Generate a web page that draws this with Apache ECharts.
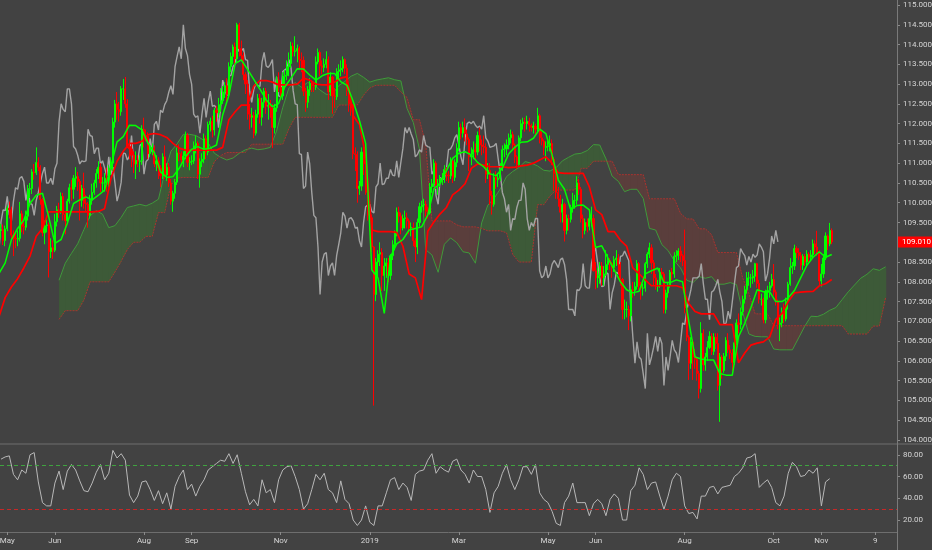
<!DOCTYPE html>
<html><head><meta charset="utf-8">
<script src="https://cdn.jsdelivr.net/npm/echarts@6/dist/echarts.min.js"></script>
<style>html,body{margin:0;padding:0;background:#424242;}#c{width:932px;height:550px;}</style>
</head><body><div id="c"></div>
<script>
// Daily candles [open, close, low, high], bar index j = 0..401 (late Apr 2018 .. 8 Nov 2019)
const candles = [
[109.30,109.32,109.10,109.47],[109.32,109.04,108.93,109.45],[109.04,109.34,108.90,109.42],[109.34,109.86,109.28,109.93],[109.86,109.82,109.62,110.03],
[109.82,109.18,109.05,109.90],[109.18,109.10,108.65,109.30],[109.10,109.08,108.85,109.24],[109.08,109.10,108.90,109.30],[109.10,109.72,109.02,110.02],
[109.72,109.40,109.25,109.80],[109.40,109.38,109.20,109.52],[109.38,109.66,109.30,109.80],[109.66,110.34,109.55,110.45],[110.34,110.36,110.12,110.50],
[110.36,110.78,110.22,110.85],[110.78,110.76,110.58,110.98],[110.76,111.02,110.70,111.40],[111.02,110.90,110.80,111.15],[110.90,110.08,109.95,110.95],
[110.08,109.24,109.15,110.12],[109.24,109.42,108.95,109.55],[109.42,109.44,109.25,109.58],[109.44,108.76,108.11,109.50],[108.76,108.86,108.60,109.10],
[108.86,108.80,108.58,109.05],[108.80,109.52,108.75,109.72],[109.52,109.82,109.40,109.92],[109.82,109.80,109.62,110.00],[109.80,110.16,109.72,110.26],
[110.16,109.70,109.55,110.25],[109.70,109.54,109.20,109.78],[109.54,110.04,109.48,110.10],[110.04,110.38,109.98,110.48],[110.38,110.34,110.05,110.58],
[110.34,110.62,110.10,110.70],[110.62,110.66,110.40,110.90],[110.66,110.54,110.30,110.78],[110.54,110.06,109.55,110.60],[110.06,110.36,109.90,110.45],
[110.36,109.98,109.85,110.76],[109.98,109.96,109.78,110.20],[109.96,109.68,109.37,110.02],[109.68,110.06,109.60,110.20],[110.06,110.26,109.95,110.48],
[110.26,110.50,110.20,110.58],[110.50,110.74,110.38,110.85],[110.74,110.90,110.60,111.05],[110.90,110.50,110.27,111.00],[110.50,110.50,110.30,110.65],
[110.50,110.62,110.28,110.75],[110.62,110.46,110.28,110.88],[110.46,110.86,110.40,110.95],[110.86,111.00,110.70,111.15],[111.00,112.04,110.80,112.15],
[112.04,112.50,111.90,112.60],[112.50,112.36,112.10,112.80],[112.36,112.30,112.05,112.55],[112.30,112.88,112.20,112.95],[112.88,112.88,112.60,113.13],
[112.88,112.50,112.40,113.18],[112.50,111.42,111.38,112.62],[111.42,111.36,111.10,111.60],[111.36,111.20,110.90,111.48],[111.20,110.98,110.75,111.30],
[110.98,111.06,110.60,111.30],[111.06,111.04,110.90,111.20],[111.04,111.06,110.78,111.20],[111.06,111.86,110.96,111.96],[111.86,111.70,111.40,112.15],
[111.70,111.68,111.55,111.85],[111.68,111.24,111.10,111.78],[111.24,111.38,111.15,111.50],[111.38,111.38,111.20,111.50],[111.38,110.98,110.90,111.45],
[110.98,111.06,110.80,111.20],[111.06,110.88,110.60,111.15],[110.88,110.68,110.40,110.95],[110.68,111.16,110.60,111.25],[111.16,110.70,110.60,111.45],
[110.70,110.90,110.55,111.00],[110.90,110.50,110.40,111.00],[110.50,110.04,109.95,110.60],[110.04,110.24,109.77,110.30],[110.24,110.52,110.10,110.60],
[110.52,111.26,110.45,111.40],[111.26,111.24,111.05,111.48],[111.24,111.08,110.95,111.30],[111.08,111.18,110.90,111.30],[111.18,111.70,111.10,111.80],
[111.70,111.02,110.90,111.76],[111.02,111.04,110.82,111.15],[111.04,111.06,110.95,111.20],[111.06,111.44,110.98,111.55],[111.44,111.50,111.25,111.70],
[111.50,110.72,110.60,111.55],[110.72,111.04,110.38,111.12],[111.04,111.10,110.90,111.25],[111.10,111.62,111.00,111.75],[111.62,111.28,111.10,111.70],
[111.28,111.98,111.20,112.05],[111.98,112.06,111.80,112.15],[112.06,111.84,111.65,112.20],[111.84,112.34,111.70,112.40],[112.34,112.28,112.05,112.45],
[112.28,112.48,112.15,112.65],[112.48,112.58,112.30,112.90],[112.58,112.80,112.50,112.95],[112.80,112.96,112.65,113.05],[112.96,112.74,112.50,113.15],
[112.74,113.44,112.65,113.55],[113.44,113.70,113.30,113.80],[113.70,113.94,113.50,114.00],[113.94,113.64,113.40,114.05],[113.64,114.50,113.55,114.55],
[114.50,113.90,113.70,114.55],[113.90,113.72,113.60,114.10],[113.72,113.24,113.10,113.80],[113.24,113.00,112.75,113.30],[113.00,112.24,112.10,113.10],
[112.24,112.16,111.85,112.50],[112.16,112.20,111.90,112.40],[112.20,111.76,111.63,112.30],[111.76,112.24,111.70,112.35],[112.24,112.64,112.15,112.75],
[112.64,112.16,112.00,112.75],[112.16,112.54,111.95,112.65],[112.54,112.82,112.40,112.90],[112.82,112.44,112.25,112.90],[112.44,112.46,112.10,112.75],
[112.46,112.40,112.15,112.60],[112.40,111.90,111.38,112.50],[111.90,112.40,111.75,112.50],[112.40,113.10,112.30,113.20],[113.10,112.92,112.80,113.30],
[112.92,112.70,112.60,113.10],[112.70,113.20,112.60,113.30],[113.20,113.22,112.90,113.35],[113.22,113.44,113.10,113.60],[113.44,113.52,113.20,113.80],
[113.52,113.96,113.40,114.07],[113.96,113.82,113.70,114.05],[113.82,113.84,113.70,114.21],[113.84,113.90,113.55,114.00],[113.90,113.62,113.40,113.95],
[113.62,113.60,113.30,113.80],[113.60,112.82,112.70,113.70],[112.82,112.54,112.30,112.90],[112.54,112.86,112.40,112.95],[112.86,113.02,112.70,113.15],
[113.02,112.96,112.80,113.10],[112.96,112.94,112.80,113.05],[112.94,113.56,112.85,113.70],[113.56,113.80,113.50,113.90],[113.80,113.46,113.20,113.85],
[113.46,113.42,113.25,113.60],[113.42,113.50,113.30,113.65],[113.50,113.62,113.40,113.83],[113.62,112.80,112.60,113.70],[112.80,113.18,112.70,113.30],
[113.18,112.70,112.25,113.20],[112.70,112.68,112.40,112.90],[112.68,113.32,112.60,113.40],[113.32,113.36,113.10,113.50],[113.36,113.40,113.20,113.60],
[113.40,113.62,113.30,113.70],[113.62,113.40,113.25,113.65],[113.40,112.84,112.70,113.50],[112.84,112.50,112.30,112.90],[112.50,112.48,112.20,112.65],
[112.48,111.24,111.10,112.50],[111.24,111.22,110.80,111.40],[111.22,110.36,110.00,111.30],[110.36,110.42,110.20,110.55],[110.42,111.28,110.30,111.40],
[111.28,110.98,110.70,111.50],[110.98,110.26,110.20,111.05],[110.26,109.68,109.55,110.35],[109.68,109.62,109.30,109.80],[109.62,108.88,108.75,109.70],
[108.88,107.68,104.87,108.90],[107.68,108.50,107.51,108.60],[108.50,108.70,108.10,108.80],[108.70,108.74,108.40,109.00],[108.74,108.16,107.77,108.85],
[108.16,108.40,107.77,108.60],[108.40,108.48,108.10,108.60],[108.48,108.16,107.99,108.60],[108.16,108.66,108.05,108.70],[108.66,108.94,108.55,109.05],
[108.94,109.24,108.80,109.30],[109.24,109.76,109.15,109.88],[109.76,109.66,109.50,109.90],[109.66,109.36,109.20,109.75],[109.36,109.60,109.30,109.70],
[109.60,109.62,109.35,109.80],[109.62,109.54,109.35,109.75],[109.54,109.36,109.20,109.60],[109.36,109.38,109.15,109.50],[109.38,109.04,108.90,109.50],
[109.04,108.88,108.50,109.10],[108.88,109.50,108.70,109.60],[109.50,109.90,109.40,110.00],[109.90,109.94,109.75,110.05],[109.94,109.96,109.80,110.10],
[109.96,109.78,109.65,110.05],[109.78,109.74,109.60,109.90],[109.74,110.40,109.70,110.50],[110.40,110.48,110.25,110.60],[110.48,111.00,110.40,111.10],
[111.00,110.46,110.35,111.05],[110.46,110.48,110.20,110.60],[110.48,110.62,110.40,110.70],[110.62,110.62,110.45,110.75],[110.62,110.84,110.50,110.95],
[110.84,110.70,110.55,110.90],[110.70,110.68,110.50,110.80],[110.68,111.06,110.60,111.15],[111.06,110.64,110.50,111.10],[110.64,111.02,110.55,111.10],
[111.02,111.38,110.90,111.50],[111.38,111.90,111.30,112.05],[111.90,111.76,111.60,112.00],[111.76,111.90,111.65,112.05],[111.90,111.74,111.55,112.13],
[111.74,111.60,111.45,111.85],[111.60,111.16,110.80,111.65],[111.16,111.22,110.95,111.40],[111.22,111.34,111.10,111.55],[111.34,111.28,111.10,111.50],
[111.28,111.70,111.20,111.80],[111.70,111.46,111.30,111.90],[111.46,111.42,111.20,111.60],[111.42,111.40,111.25,111.70],[111.40,110.72,110.50,111.50],
[110.72,110.82,110.60,111.00],[110.82,110.18,109.95,111.00],[110.18,109.96,109.70,110.30],[109.96,110.64,109.90,110.75],[110.64,110.58,110.35,110.80],
[110.58,110.62,110.40,110.75],[110.62,110.86,110.55,111.00],[110.86,111.34,110.80,111.45],[111.34,111.36,111.15,111.50],[111.36,111.46,111.20,111.60],
[111.46,111.64,111.35,111.75],[111.64,111.72,111.50,111.85],[111.72,111.46,111.35,111.80],[111.46,111.16,111.00,111.50],[111.16,110.96,110.85,111.20],
[110.96,111.64,110.90,111.70],[111.64,112.00,111.55,112.10],[112.00,112.04,111.85,112.15],[112.04,112.00,111.80,112.15],[112.00,112.06,111.85,112.20],
[112.06,111.96,111.80,112.15],[111.96,111.90,111.80,112.00],[111.90,111.94,111.75,112.05],[111.94,111.86,111.70,112.00],[111.86,112.20,111.80,112.40],
[112.20,111.64,111.50,112.25],[111.64,111.56,111.45,111.80],[111.56,111.40,111.20,111.60],[111.40,111.42,111.05,111.55],[111.42,111.44,111.30,111.60],
[111.44,111.50,111.30,111.70],[111.50,111.10,110.95,111.60],[111.10,110.74,110.30,111.15],[110.74,110.26,110.10,110.80],[110.26,110.10,109.90,110.40],
[110.10,109.76,109.50,110.20],[109.76,109.96,109.50,110.10],[109.96,109.30,109.02,110.00],[109.30,109.60,109.20,109.70],[109.60,109.58,109.30,109.70],
[109.58,109.88,109.50,109.95],[109.88,110.06,109.75,110.25],[110.06,110.06,109.85,110.20],[110.06,110.50,109.95,110.67],[110.50,110.34,110.20,110.60],
[110.34,109.60,109.50,110.40],[109.60,109.30,109.10,109.70],[109.30,109.50,109.20,109.60],[109.50,109.40,109.25,109.60],[109.40,109.60,109.30,109.80],
[109.60,109.60,109.40,109.90],[109.60,108.28,108.26,109.70],[108.28,108.10,107.81,108.50],[108.10,108.16,107.85,108.35],[108.16,108.40,107.95,108.50],
[108.40,108.10,107.90,108.50],[108.10,108.20,107.90,108.40],[108.20,108.44,108.15,108.80],[108.44,108.54,108.30,108.70],[108.54,108.46,108.30,108.60],
[108.46,108.36,108.10,108.50],[108.36,108.56,108.25,108.65],[108.56,108.60,108.40,108.80],[108.60,108.44,108.20,108.70],[108.44,108.06,107.90,108.50],
[108.06,107.30,107.05,108.10],[107.30,107.30,107.05,107.55],[107.30,107.30,107.10,107.50],[107.30,107.14,106.78,107.40],[107.14,107.80,107.00,107.90],
[107.80,107.78,107.60,108.00],[107.78,107.88,107.65,108.00],[107.88,108.46,107.80,108.55],[108.46,107.90,107.80,108.50],[107.90,107.84,107.55,108.00],
[107.84,107.84,107.65,107.95],[107.84,108.46,107.75,108.50],[108.46,108.70,108.35,108.75],[108.70,108.86,108.60,108.99],[108.86,108.48,108.20,108.95],
[108.48,108.10,107.90,108.55],[108.10,107.88,107.80,108.20],[107.88,107.90,107.75,108.05],[107.90,108.24,107.85,108.35],[108.24,108.20,108.05,108.35],
[108.20,107.30,107.20,108.25],[107.30,107.72,107.20,107.80],[107.72,107.92,107.60,108.00],[107.92,108.24,107.85,108.30],[108.24,108.20,108.05,108.35],
[108.20,108.64,108.10,108.75],[108.64,108.66,108.50,108.80],[108.66,108.78,108.55,108.85],[108.78,108.66,108.50,108.90],[108.66,108.54,108.40,108.70],
[108.54,107.34,107.20,109.32],[107.34,106.60,106.50,107.50],[106.60,105.94,105.52,106.65],[105.94,106.48,105.80,106.60],[106.48,106.10,105.52,106.55],
[106.10,106.04,105.80,106.30],[106.04,105.68,105.50,106.10],[105.68,105.30,105.05,105.75],[105.30,106.70,105.20,106.98],[106.70,105.90,105.75,106.80],
[105.90,106.10,105.75,106.20],[106.10,106.34,106.00,106.50],[106.34,106.62,106.30,106.75],[106.62,106.24,106.15,106.70],[106.24,106.60,106.15,106.70],
[106.60,106.44,106.30,106.70],[106.44,105.38,105.25,106.70],[105.38,106.10,104.46,106.20],[106.10,105.76,105.55,106.15],[105.76,106.12,105.70,106.20],
[106.12,106.52,106.00,106.60],[106.52,106.28,106.20,106.70],[106.28,106.20,106.05,106.40],[106.20,105.96,105.74,106.30],[105.96,106.46,105.90,106.55],
[106.46,106.96,106.40,107.05],[106.96,106.92,106.70,107.20],[106.92,107.24,106.80,107.35],[107.24,107.56,107.15,107.65],[107.56,107.80,107.45,107.90],
[107.80,108.10,107.70,108.25],[108.10,108.10,107.90,108.25],[108.10,108.10,107.85,108.20],[108.10,108.14,107.95,108.30],[108.14,108.46,108.00,108.48],
[108.46,107.96,107.85,108.48],[107.96,107.56,107.45,108.05],[107.56,107.56,107.40,107.70],[107.56,107.04,106.95,107.60],[107.04,107.74,106.95,107.80],
[107.74,107.78,107.55,107.90],[107.78,107.90,107.60,108.00],[107.90,108.06,107.85,108.20],[108.06,107.74,107.65,108.45],[107.74,107.50,107.40,107.80],
[107.50,106.92,106.80,107.55],[106.92,106.96,106.50,107.10],[106.96,107.26,106.85,107.35],[107.26,107.06,106.95,107.45],[107.06,107.50,107.00,107.60],
[107.50,107.94,107.30,108.00],[107.94,108.36,107.90,108.60],[108.36,108.40,108.20,108.50],[108.40,108.84,108.30,108.94],[108.84,108.74,108.60,108.90],
[108.74,108.66,108.55,108.85],[108.66,108.42,108.30,108.75],[108.42,108.64,108.30,108.70],[108.64,108.50,108.40,108.70],[108.50,108.70,108.40,108.80],
[108.70,108.62,108.50,108.75],[108.62,108.68,108.55,108.80],[108.68,108.96,108.60,109.07],[108.96,108.88,108.70,109.05],[108.88,108.76,108.65,109.29],
[108.76,108.02,107.90,108.80],[108.02,108.20,107.88,108.45],[108.20,108.60,108.10,108.70],[108.60,109.16,108.55,109.25],[109.16,108.96,108.80,109.20],
[108.96,109.30,108.90,109.49],[109.30,109.01,108.95,109.35]
];
// Tenkan-sen and Kijun-sen, read every 3 bars starting at bar -1
const tenkan = [108.21,108.48,109.06,109.35,109.56,109.98,110.19,110.24,109.65,108.97,109.07,109.48,109.98,110.07,110.15,110.07,110.19,110.32,110.91,111.54,
111.67,111.96,111.95,111.84,111.50,111.27,110.78,110.64,110.66,110.87,111.16,111.35,111.42,111.35,111.38,111.46,112.22,112.72,113.52,113.61,
113.37,113.12,112.87,112.60,112.43,112.51,112.93,113.15,113.39,113.38,113.23,113.10,113.21,113.27,113.27,113.06,112.97,112.56,112.08,111.50,
108.30,108.09,107.20,108.63,108.96,109.07,109.31,109.35,109.39,109.69,110.36,110.49,110.81,111.12,111.25,111.29,111.21,111.02,110.91,110.73,
110.68,110.87,111.23,111.40,111.53,111.54,111.63,111.86,111.75,111.21,110.57,110.34,109.82,109.93,109.94,109.82,108.87,108.91,108.60,108.30,
108.00,107.80,107.72,107.76,108.20,108.28,108.35,107.98,107.98,108.05,108.00,107.00,106.10,106.05,106.02,106.02,105.68,105.64,105.64,106.61,
106.95,107.35,107.80,107.75,107.75,107.50,107.50,107.60,107.78,108.10,108.42,108.62,108.76,108.62,108.69];
const kijun = [107.12,107.60,107.87,108.08,108.35,108.65,109.15,109.35,109.77,109.77,109.77,109.77,109.77,109.77,109.77,109.77,109.78,109.85,110.60,111.05,
111.30,111.50,111.50,111.55,111.72,111.75,111.72,111.65,111.50,111.38,111.33,111.33,111.33,111.33,111.33,111.33,111.40,112.10,112.30,112.47,
112.47,112.95,113.09,113.09,113.05,112.98,112.98,112.98,113.00,113.15,113.10,113.00,112.98,112.98,113.05,113.15,113.19,112.20,111.98,111.20,
109.31,109.27,109.27,109.27,109.25,108.90,108.20,108.10,107.55,109.28,109.52,109.72,109.88,110.20,110.32,110.48,110.87,110.98,110.95,110.91,
110.91,110.91,110.89,110.90,110.93,110.95,111.00,111.08,111.16,111.00,110.76,110.74,110.74,110.74,110.74,110.40,109.82,109.70,109.27,109.27,
109.05,108.90,108.35,108.20,108.05,107.90,107.90,107.90,107.90,107.90,107.85,107.45,107.25,107.19,107.19,107.19,106.92,106.92,106.92,105.95,
106.20,106.40,106.45,106.48,106.60,107.05,107.20,107.50,107.72,107.74,107.75,107.76,107.90,107.95,108.06];
// Senkou span A / B (already displaced 26 bars ahead), every 3 bars from bar 28
const spanA = [108.04,108.47,108.72,108.96,109.32,109.67,109.80,109.71,109.37,109.42,109.63,109.88,109.92,109.96,109.92,109.99,110.09,110.76,111.30,111.49,
111.73,111.73,111.70,111.61,111.51,111.25,111.15,111.08,111.13,111.25,111.34,111.38,111.34,111.36,111.40,111.81,112.41,112.91,113.04,112.92,
113.04,112.98,112.85,112.74,112.75,112.96,113.07,113.20,113.27,113.17,113.05,113.10,113.13,113.16,113.11,113.08,112.38,112.03,111.35,108.81,
108.68,108.24,108.95,109.11,108.99,108.76,108.73,108.47,109.49,109.94,110.11,110.35,110.66,110.79,110.89,111.04,111.00,110.93,110.82,110.80,
110.89,111.06,111.15,111.23,111.25,111.32,111.47,111.46,111.11,110.67,110.54,110.28,110.34,110.34,110.11,109.35,109.31,108.94,108.79,108.53,
108.35,108.04,107.98,108.13,108.09,108.13,107.94,107.94,107.98,107.93,107.23,106.68,106.62,106.61,106.61,106.30,106.28,106.28,106.28,106.58,
106.88,107.13,107.12,107.18,107.28,107.35,107.55,107.75,107.92,108.09,108.19,108.33,108.29,108.38];
const spanB = [107.05,107.27,107.27,107.27,107.54,108.00,108.00,108.00,108.00,108.25,108.52,108.82,109.00,109.00,109.15,109.15,109.75,109.75,110.45,110.62,
110.64,110.64,110.64,110.64,110.64,111.04,111.19,111.27,111.27,111.27,111.27,111.48,111.48,111.48,111.48,111.48,111.48,111.88,112.16,112.16,
112.16,112.16,112.16,112.16,112.16,112.47,112.47,112.47,112.47,112.72,112.90,112.97,112.97,112.97,112.97,112.80,112.66,112.10,112.10,111.48,
109.54,109.54,109.54,109.54,109.44,109.39,109.39,109.39,109.35,109.29,109.29,109.29,109.24,108.69,108.50,108.50,108.50,109.95,109.95,110.17,
110.32,110.32,110.32,110.32,110.87,110.87,111.05,111.05,111.05,111.05,110.71,110.71,110.71,110.71,110.71,110.10,110.10,110.10,110.10,110.10,
109.73,109.59,109.59,109.34,109.34,109.19,108.74,108.74,108.74,108.74,108.10,107.70,107.19,107.19,107.19,106.89,106.89,106.89,106.89,106.89,
106.89,106.89,106.89,106.89,106.89,106.89,106.89,106.68,106.68,106.68,106.68,106.88,106.88,107.60];
// RSI(14), read every 2 bars from bar 0
const rsi = [76,78,79,62,57,66,63,80,82,55,36,33,33,54,65,48,65,71,66,56,47,46,54,64,71,57,63,84,77,81,75,43,36,42,55,56,48,38,47,35,
45,30,51,60,66,48,53,42,51,57,66,69,72,75,74,81,72,80,63,46,34,39,33,57,45,48,36,57,66,69,70,60,48,30,35,48,62,57,63,48,
45,36,56,39,35,20,15,20,33,18,15,33,33,45,57,59,48,54,50,38,62,65,66,75,81,63,69,66,64,74,76,66,62,54,66,60,60,48,27,45,
51,63,71,57,48,57,69,69,62,71,45,39,36,28,17,15,36,42,54,36,36,36,24,35,39,35,24,39,44,40,20,20,47,52,68,62,48,54,55,42,
30,42,57,63,60,33,26,27,21,42,42,50,51,44,50,51,52,60,63,68,77,78,81,50,54,57,50,36,33,42,63,73,69,60,61,66,63,68,33,55,58];
const rsiLevels = [70, 30];
const timeLabels = [[3,'May'],[26,'Jun'],[69,'Aug'],[92,'Sep'],[135,'Nov'],[178,'2019'],[221,'Mar'],[264,'May'],[287,'Jun'],[330,'Aug'],[373,'Oct'],[396,'Nov'],[422,'9']];
const rsiTicks = [20, 40, 60, 80];

const SLOTS = 433, TK_START = -1, TK_STEP = 3, CL_START = 28, CL_STEP = 3, RSI_STEP = 2, LAG = 26;
const lastClose = candles[candles.length - 1][1];

const catNames = new Array(SLOTS).fill('');
timeLabels.forEach(([j, s]) => { catNames[j] = s; });

const GREEN_FILL = '#3d5a38', RED_FILL = '#5a3e3c';
function cloudItem(params, api) {
  const m = api.value(3);
  const j0 = CL_START + CL_STEP * m, j1 = j0 + CL_STEP;
  const a0 = spanA[m], a1 = spanA[m + 1], b0 = spanB[m], b1 = spanB[m + 1];
  const d0 = a0 - b0, d1 = a1 - b1;
  const P = (j, v) => api.coord([j, v]);
  const poly = (pts, col) => ({ type: 'polygon', shape: { points: pts }, style: { fill: col }, silent: true });
  const ov = 0.3; // slight overlap so adjacent pieces meet without seams
  if (d0 * d1 >= 0) {
    const col = (d0 + d1) >= 0 ? GREEN_FILL : RED_FILL;
    return poly([P(j0, a0), P(j1 + ov, a1), P(j1 + ov, b1), P(j0, b0)], col);
  }
  const t = d0 / (d0 - d1);
  const jc = j0 + CL_STEP * t, vc = a0 + (a1 - a0) * t;
  return { type: 'group', children: [
    poly([P(j0, a0), P(jc, vc), P(j0, b0)], d0 > 0 ? GREEN_FILL : RED_FILL),
    poly([P(jc, vc), P(j1 + ov, a1), P(j1 + ov, b1)], d1 > 0 ? GREEN_FILL : RED_FILL)
  ]};
}

const labelColor = '#d6d6d6';
const xRange = { min: -0.5, max: SLOTS - 0.5 };
const chart = echarts.init(document.getElementById('c'), null, { renderer: 'canvas' });
chart.setOption({
  backgroundColor: '#424242',
  animation: false,
  grid: [
    { left: 0, width: 897, top: 5, height: 435, outerBoundsMode: 'none', containLabel: false },
    { left: 0, width: 897, top: 433, height: 108.8, outerBoundsMode: 'none', containLabel: false },
    { left: 0, width: 897, top: 444, height: 88, outerBoundsMode: 'none', containLabel: false }
  ],
  xAxis: [
    { type: 'value', gridIndex: 0, ...xRange, show: false },
    { type: 'value', gridIndex: 1, ...xRange, show: false },
    { type: 'category', gridIndex: 2, data: catNames, boundaryGap: true,
      axisLine: { show: true, onZero: false, lineStyle: { color: '#6e6e6e' } },
      axisTick: { show: true, alignWithLabel: true, length: 3, interval: (i, v) => v !== '', lineStyle: { color: '#8a8a8a' } },
      axisLabel: { interval: 0, color: labelColor, fontSize: 8, fontFamily: 'Roboto', margin: 5 },
      splitLine: { show: false } }
  ],
  yAxis: [
    { type: 'value', gridIndex: 0, position: 'right', min: 104, max: 115, interval: 0.5,
      axisLine: { show: false, onZero: false }, splitLine: { show: false },
      axisTick: { show: true, length: 3, lineStyle: { color: '#8a8a8a' } },
      axisLabel: { color: labelColor, fontSize: 8, fontFamily: 'Roboto', margin: 6, formatter: v => v.toFixed(3) } },
    { type: 'value', gridIndex: 1, position: 'right', min: 0, max: 100, interval: 20,
      axisLine: { show: false, onZero: false }, splitLine: { show: false },
      axisTick: { show: true, length: 3, customValues: rsiTicks, lineStyle: { color: '#8a8a8a' } },
      axisLabel: { color: labelColor, fontSize: 8, fontFamily: 'Roboto', margin: 6, customValues: rsiTicks,
        formatter: v => Number(v).toFixed(2) } },
    { type: 'value', gridIndex: 2, show: false, axisLine: { onZero: false } }
  ],
  graphic: [
    { type: 'line', shape: { x1: 0, y1: 444, x2: 932, y2: 444 }, style: { stroke: '#6e6e6e', lineWidth: 1 }, silent: true, z: 100 },
    { type: 'line', shape: { x1: 897.5, y1: 0, x2: 897.5, y2: 550 }, style: { stroke: '#7a7a7a', lineWidth: 1 }, silent: true, z: 100 }
  ],
  series: [
    { type: 'custom', name: 'Cloud', xAxisIndex: 0, yAxisIndex: 0, z: 1, silent: true,
      renderItem: cloudItem,
      encode: { x: 0, y: [1, 2] },
      data: spanA.slice(0, -1).map((a, m) => [CL_START + CL_STEP * m, a, spanB[m], m]) },
    { type: 'line', name: 'Span A', xAxisIndex: 0, yAxisIndex: 0, z: 2, symbol: 'none', silent: true,
      lineStyle: { color: '#3f9a3a', width: 1 },
      data: spanA.map((v, m) => [CL_START + CL_STEP * m, v]) },
    { type: 'line', name: 'Span B', xAxisIndex: 0, yAxisIndex: 0, z: 2, symbol: 'none', silent: true,
      lineStyle: { color: '#a8332f', width: 1, type: [2, 1] },
      data: spanB.map((v, m) => [CL_START + CL_STEP * m, v]) },
    { type: 'line', name: 'Chikou', xAxisIndex: 0, yAxisIndex: 0, z: 3, symbol: 'none', silent: true,
      lineStyle: { color: '#a3a3a3', width: 1.4 },
      data: candles.map((r, j) => [j - LAG, r[1]]).filter(p => p[0] >= -1) },
    { type: 'candlestick', name: 'Price', xAxisIndex: 0, yAxisIndex: 0, z: 4, silent: true, clip: false,
      barWidth: 1.6,
      encode: { x: 0, y: [1, 2, 3, 4] },
      itemStyle: { color: '#00ff00', color0: '#ff0000', borderColor: '#00ff00', borderColor0: '#ff0000', borderWidth: 1 },
      data: candles.map((r, j) => [j, r[0], r[1], r[2], r[3]]),
      markLine: { silent: true, symbol: 'none', animation: false, z: 10,
        lineStyle: { color: '#ff0000', width: 0, opacity: 0 },
        label: { show: true, position: 'end', distance: 1, formatter: p => Number(p.value).toFixed(3),
          color: '#ffffff', backgroundColor: '#ff0000', padding: [2, 5, 1, 4], fontSize: 8, fontFamily: 'Roboto', opacity: 1 },
        data: [{ yAxis: lastClose }] } },
    { type: 'line', name: 'Kijun', xAxisIndex: 0, yAxisIndex: 0, z: 5, symbol: 'none', silent: true,
      lineStyle: { color: '#ff0000', width: 1.7 },
      data: kijun.map((v, n) => [TK_START + TK_STEP * n, v]) },
    { type: 'line', name: 'Tenkan', xAxisIndex: 0, yAxisIndex: 0, z: 6, symbol: 'none', silent: true,
      lineStyle: { color: '#00ff00', width: 1.5 },
      data: tenkan.map((v, n) => [TK_START + TK_STEP * n, v]) },
    { type: 'line', name: 'RSI', xAxisIndex: 1, yAxisIndex: 1, z: 3, symbol: 'none', silent: true,
      lineStyle: { color: '#b8b8b8', width: 1 },
      data: rsi.map((v, k) => [RSI_STEP * k, v]),
      markLine: { silent: true, symbol: 'none', animation: false, label: { show: false },
        lineStyle: { color: '#3fa33f', type: [4, 3], width: 1, opacity: 1 },
        data: [ { yAxis: rsiLevels[0] } ] } },
    { type: 'line', name: 'RSI lower band', xAxisIndex: 1, yAxisIndex: 1, z: 3, symbol: 'none', silent: true,
      lineStyle: { opacity: 0 }, data: [],
      markLine: { silent: true, symbol: 'none', animation: false, label: { show: false },
        lineStyle: { color: '#c62828', type: [4, 3], width: 1, opacity: 1 },
        data: [ { yAxis: rsiLevels[1] } ] } }
  ]
});
</script>
</body></html>
